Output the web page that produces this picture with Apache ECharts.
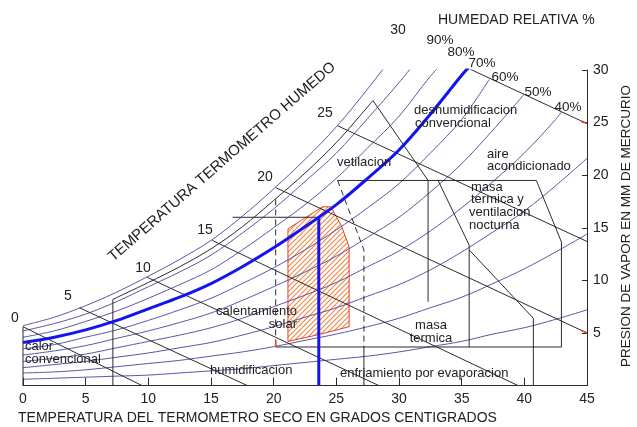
<!DOCTYPE html>
<html><head><meta charset="utf-8">
<script src="https://cdn.jsdelivr.net/npm/echarts@6/dist/echarts.min.js"></script>
<style>html,body{margin:0;padding:0;background:#fff}#c{width:637px;height:427px}</style>
</head><body><div id="c"></div>
<script>
// ---- data (dry bulb °C, vapour pressure mmHg) ----
const T_GRID = [0,2.5,5,7.5,10,12.5,15,17.5,20,22.5,25,27.5,30,32.5,35,37.5,40,42.5,45];
const rh100 = [5.7,6.5,7.6,8.9,10.4,12.0,13.8,16.1,18.7,21.5,24.6,28.2,32.0];
const rh90  = [5.2,5.9,6.8,8.0,9.4,10.8,12.4,14.5,16.8,19.4,22.1,25.4,28.8];
const rh80  = [4.6,5.2,6.1,7.1,8.3,9.6,11.0,12.9,15.0,17.2,19.7,22.6,25.6,29.4];
const rh70  = [4.1,4.6,5.3,6.2,7.3,8.4,9.7,11.3,13.1,15.1,17.2,19.7,22.4,25.8,29.5];
const rh60  = [3.5,3.9,4.6,5.3,6.2,7.2,8.3,9.7,11.2,12.9,14.8,16.9,19.2,22.1,25.3];
const rh50  = [2.9,3.3,3.8,4.5,5.2,6.0,6.9,8.1,9.4,10.8,12.3,14.1,16.0,18.4,21.1,24.3];
const rh40  = [2.3,2.6,3.0,3.6,4.2,4.8,5.5,6.4,7.5,8.6,9.8,11.3,12.8,14.7,16.9,19.4,22.1,25.3];
const rh30  = [1.7,2.0,2.3,2.7,3.1,3.6,4.1,4.8,5.6,6.5,7.4,8.5,9.6,11.0,12.7,14.6,16.6,19.0,21.6];
const rh20  = [1.2,1.3,1.5,1.8,2.1,2.4,2.8,3.2,3.7,4.3,4.9,5.6,6.4,7.4,8.4,9.7,11.1,12.7,14.4];
const rh10  = [0.6,0.7,0.8,0.9,1.0,1.2,1.4,1.6,1.9,2.2,2.5,2.8,3.2,3.7,4.2,4.9,5.5,6.3,7.2];
const rhEndT = [30.78,32.16,33.84,35.52,37.2,40.0,42.96,null,null,null];
const rhEndE = [32.8,32.0,31.1,30.2,29.1,27.7,26.0,null,null,null];
const rhLabels = ['100%','90%','80%','70%','60%','50%','40%','30%','20%','10%'];

const wbLabels = ['0','5','10','15','20','25','30'];
const wbStartT = [0,4.5,9.9,15.1,20.2,25.1,30.78];
const wbStartE = [5.6,7.4,10.3,13.8,18.8,24.7,32.8];
const wbEndT   = [9.5,17.9,28.4,39.5,45,45,45];
const wbEndE   = [0,0,0,0,5.0,13.7,24.9];

const ventBoundary = [[7.17,8.2],[10,9.8],[12.5,11.3],[15,13.0],[17.5,15.1],[20,17.6],[22.5,20.2],[25,23.1],[27.5,26.5],[27.92,27.1]];
const ventRight   = [[27.92,27.1],[32.32,19.5],[32.32,7.97]];
const leftEdge    = [[0,5.6],[0,0]];
const solarLeft   = [[7.17,8.2],[7.17,0]];
const comfortLine = [[16.72,16.0],[23.6,16.0]];
const comfortDrop = [[23.6,16.0],[23.6,0]];
const solarDash   = [[20.16,17.7],[20.16,3.67]];
const masaOuter   = [[20.16,3.67],[42.96,3.67],[42.96,13.65],[40.96,19.5],[25.1,19.5]];
const evapDash    = [[25.1,19.5],[27.2,12.9],[27.2,3.67]];
const evapSolid   = [[27.2,3.67],[27.2,0]];
const masaInner   = [[33.12,19.5],[35.6,13.36],[35.6,3.67]];
const evapBound   = [[35.6,12.9],[40.72,6.4],[40.72,0]];
const comfortT = [21.14,23.9,24.56,25.4,26.02,26.02,23.6,21.14];
const comfortE = [14.9,17.0,17.0,15.2,13.2,5.6,4.85,4.2];
const redMarks = [[[44.55,25.15],[45,24.9]],[[44.5,5.28],[45,5.0]],[[20.16,4.3],[20.16,3.67]]];

const X_TICKS = [0,5,10,15,20,25,30,35,40,45];
const Y_TICKS = [5,10,15,20,25,30];

// ---- build ----
const curves = [rh100,rh90,rh80,rh70,rh60,rh50,rh40,rh30,rh20,rh10];
function curvePts(vals, i){
  const pts = vals.map((v,k)=>[T_GRID[k], v]);
  if (rhEndT[i] != null) pts.push([rhEndT[i], rhEndE[i]]);
  return pts;
}
function line(pts, color, width, type, z, smooth){
  return {type:'line', data:pts, symbol:'none', smooth: smooth||false, silent:true, animation:false,
          lineStyle:{color:color, width:width, type:type||'solid'}, z:z||3};
}
const BLACK = '#2b2b2b', THIN = '#5858a6', BOLD = '#1414ee', RED = '#e2402c';
const series = [];

// hatch pattern
const pc = document.createElement('canvas'); pc.width = 5; pc.height = 5;
const g = pc.getContext('2d'); g.strokeStyle = '#ec8a4c'; g.lineWidth = 1.2;
g.beginPath(); g.moveTo(-1,6); g.lineTo(6,-1); g.moveTo(-1,1); g.lineTo(1,-1); g.moveTo(4,6); g.lineTo(6,4); g.stroke();

series.push({type:'custom', silent:true, animation:false, z:1,
  data: comfortT.map((t,i)=>[t, comfortE[i]]),
  renderItem: function(params, api){
    if (params.dataIndex !== 0) return null;
    const pts = comfortT.map((t,i)=>api.coord([t, comfortE[i]]));
    return {type:'polygon', shape:{points:pts}, style:{fill:{image:pc, repeat:'repeat'}, stroke:RED, lineWidth:1}};
  }});

curves.forEach((c,i)=>series.push(line(curvePts(c,i), THIN, 1, 'solid', 2, 0.35)));
series.push(line(curvePts(rh70,3), BOLD, 3, 'solid', 6, 0.35));

wbLabels.forEach((l,i)=>series.push(line([[wbStartT[i],wbStartE[i]],[wbEndT[i],wbEndE[i]]], BLACK, 1, 'solid', 4)));
series.push(line(ventBoundary, BLACK, 1, 'solid', 4, 0.35));
[ventRight, leftEdge, solarLeft, comfortLine, masaOuter, evapSolid, masaInner, evapBound].forEach(p=>series.push(line(p, BLACK, 1, 'solid', 4)));
[solarDash, evapDash].forEach(p=>series.push(line(p, BLACK, 1, [6,4], 4)));
series.push(line(comfortDrop, BOLD, 3, 'solid', 6));
redMarks.forEach(p=>series.push(line(p, RED, 1.5, 'solid', 5)));

const FONT = '"Liberation Sans", Arial, sans-serif';
function txt(text, x, y, size, align, rot){
  const o = {type:'text', x:x, y:y, silent:true, z:10,
    style:{text:text, fill:'#222', font: size+'px '+FONT, align:align||'left', verticalAlign:'middle',
           textAlign:align||'left', textVerticalAlign:'middle'}};
  if (rot) o.rotation = rot;
  return o;
}
const graphics = [
  txt('HUMEDAD RELATIVA %', 438, 20, 14),
  txt('30', 398, 30, 14, 'center'),
  txt('90%', 440, 40, 13.5, 'center'), txt('80%', 461, 52, 13.5, 'center'),
  txt('70%', 482, 63, 13.5, 'center'), txt('60%', 505, 77, 13.5, 'center'),
  txt('50%', 538, 92, 13.5, 'center'), txt('40%', 568, 107, 13.5, 'center'),
  txt('0', 15, 318, 14, 'center'), txt('5', 68, 296, 14, 'center'), txt('10', 143, 268, 14, 'center'),
  txt('15', 205, 230, 14, 'center'), txt('20', 265, 177, 14, 'center'), txt('25', 325, 113, 14, 'center'),
  txt('TEMPERATURA TERMOMETRO HUMEDO', 222, 162, 15, 'center', 41*Math.PI/180),
  txt('PRESION DE VAPOR EN MM DE MERCURIO', 626, 226, 13.5, 'center', Math.PI/2),
  txt('TEMPERATURA DEL TERMOMETRO SECO EN GRADOS CENTIGRADOS', 18, 418, 14),
  txt('deshumidificacion', 414, 110, 13), txt('convencional', 415, 123, 13),
  txt('vetilacion', 337, 162, 13),
  txt('aire', 487, 154, 13), txt('acondicionado', 487, 166, 13),
  txt('masa', 471, 187, 13), txt('termica y', 471, 199, 13), txt('ventilacion', 469, 212, 13), txt('nocturna', 469, 225, 13),
  txt('calentamiento', 297, 311, 13, 'right'), txt('solar', 297, 324, 13, 'right'),
  txt('calor', 25, 346, 13), txt('convencional', 25, 359, 13),
  txt('masa', 431, 325, 13, 'center'), txt('termica', 431, 338, 13, 'center'),
  txt('humidificacion', 210, 370, 13),
  txt('enfriamiento por evaporacion', 340, 373, 13)
];

const chart = echarts.init(document.getElementById('c'), null, {renderer:'canvas'});
chart.setOption({
  animation:false,
  backgroundColor:'#fff',
  grid:{left:23, right:50, top:70, bottom:41.4, containLabel:false},
  xAxis:{type:'value', min:0, max:45, interval:5,
    axisLine:{show:true, onZero:false, lineStyle:{color:BLACK, width:1}},
    axisTick:{show:true, inside:true, length:8, lineStyle:{color:BLACK}},
    axisLabel:{color:'#222', fontSize:14, fontFamily:FONT, margin:7,
      formatter:v=>X_TICKS.indexOf(v)>=0?String(v):''},
    splitLine:{show:false}},
  yAxis:{type:'value', position:'right', min:0, max:30, interval:5,
    axisLine:{show:true, onZero:false, lineStyle:{color:BLACK, width:1}},
    axisTick:{show:true, inside:true, length:5, lineStyle:{color:BLACK}},
    axisLabel:{color:'#222', fontSize:14, fontFamily:FONT, margin:6,
      formatter:v=>Y_TICKS.indexOf(v)>=0?String(v):''},
    splitLine:{show:false}},
  series: series,
  graphic: graphics
});
</script></body></html>
